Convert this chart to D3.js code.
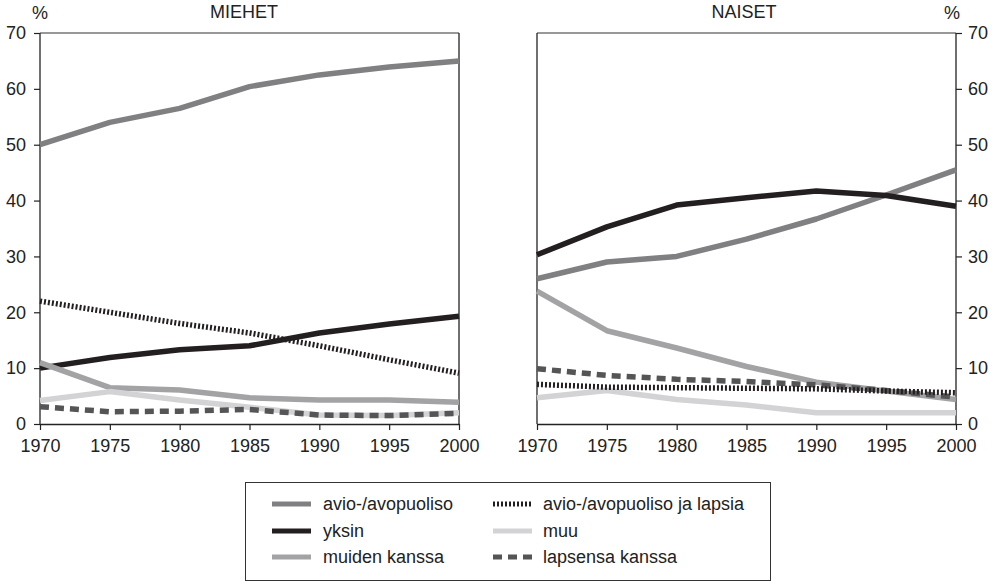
<!DOCTYPE html>
<html><head><meta charset="utf-8">
<script src="https://cdn.jsdelivr.net/npm/d3@7"></script>
<style>body{margin:0;background:#fff}svg{font-family:"Liberation Sans",Arial,sans-serif}</style>
</head><body><svg id="c" width="994" height="587"></svg>
<script>
const years = [1970,1975,1980,1985,1990,1995,2000];
const yTicks = [0,10,20,30,40,50,60,70];
const seriesNames = ["avio-/avopuoliso","yksin","muiden kanssa","avio-/avopuoliso ja lapsia","muu","lapsensa kanssa"];
// MIEHET
const menAvio   = [50,54,56.5,60.4,62.5,63.9,65];
const menYksin  = [10,11.9,13.3,14,16.3,17.9,19.3];
const menMuiden = [11,6.5,6.1,4.7,4.3,4.3,3.9];
const menLapsia = [22,20,18,16.3,14,11.5,9.1];
const menMuu    = [4.2,5.8,4.3,3.0,1.6,1.5,2.0];
const menLapsensa=[3.1,2.2,2.3,2.6,1.6,1.5,1.9];
// NAISET
const womAvio   = [26,29,30,33.1,36.7,41,45.5];
const womYksin  = [30.3,35.3,39.2,40.5,41.7,40.9,39];
const womMuiden = [23.8,16.7,13.6,10.3,7.5,5.9,4.4];
const womLapsia = [7.1,6.6,6.5,6.4,6.3,5.9,5.6];
const womMuu    = [4.7,6.0,4.4,3.4,2.0,2.0,2.0];
const womLapsensa=[9.9,8.7,8.0,7.6,7.0,6.0,4.8];

const styles = {
 "avio-/avopuoliso":{c:"#808082",w:5.5,d:null},
 "yksin":{c:"#231f20",w:5.5,d:null},
 "muiden kanssa":{c:"#a3a3a5",w:5.5,d:null},
 "avio-/avopuoliso ja lapsia":{c:"#231f20",w:5.5,d:"2,2"},
 "muu":{c:"#d3d3d5",w:5.5,d:null},
 "lapsensa kanssa":{c:"#555557",w:5.5,d:"9,6"}
};
const FS = 18;
const svg = d3.select("#c");
const yTop=33, yBot=424;
const y = d3.scaleLinear().domain([0,70]).range([yBot,yTop]);
const order = ["avio-/avopuoliso","yksin","muiden kanssa","muu","lapsensa kanssa","avio-/avopuoliso ja lapsia"];

function panel(x0,x1,data,title,titleX,pctX,side){
  const x = d3.scaleLinear().domain([1970,2000]).range([x0,x1]);
  const g = svg.append("g");
  g.append("line").attr("x1",x0).attr("x2",x1).attr("y1",yTop).attr("y2",yTop).attr("stroke","#333").attr("stroke-width",1.2);
  g.append("line").attr("x1",x0).attr("x2",x0).attr("y1",yTop).attr("y2",yBot).attr("stroke","#222").attr("stroke-width",1.3);
  g.append("line").attr("x1",x1).attr("x2",x1).attr("y1",yTop).attr("y2",yBot).attr("stroke","#222").attr("stroke-width",1.3);
  const xa = g.append("g").attr("transform",`translate(0,${yBot})`)
    .call(d3.axisBottom(x).tickValues(years).tickFormat(d3.format("d")).tickSize(6).tickSizeOuter(0).tickPadding(9));
  xa.select(".domain").attr("stroke","#222").attr("stroke-width",1.3);
  xa.selectAll(".tick line").attr("stroke","#222").attr("stroke-width",1.2);
  xa.selectAll("text").attr("font-size",FS).attr("fill","#222").attr("font-family","Liberation Sans, Arial, sans-serif");
  const ax = side==="left" ? d3.axisLeft(y) : d3.axisRight(y);
  const ya = g.append("g").attr("transform",`translate(${side==="left"?x0:x1},0)`)
    .call(ax.tickValues(yTicks).tickSize(6).tickSizeOuter(0).tickPadding(side==="left"?8:6));
  ya.select(".domain").remove();
  ya.selectAll(".tick line").attr("stroke","#222").attr("stroke-width",1.2);
  ya.selectAll("text").attr("font-size",FS).attr("fill","#222").attr("font-family","Liberation Sans, Arial, sans-serif");
  const line = d3.line().x((d,i)=>x(years[i])).y(d=>y(d));
  order.forEach(n=>{
    const s=styles[n];
    g.append("path").datum(data[n]).attr("d",line).attr("fill","none")
      .attr("stroke",s.c).attr("stroke-width",s.w).attr("stroke-dasharray",s.d)
      .attr("stroke-linejoin","round");
  });
  g.append("text").attr("x",titleX).attr("y",18).attr("text-anchor","middle").attr("font-size",FS).attr("fill","#222").text(title);
  g.append("text").attr("x",pctX).attr("y",19).attr("text-anchor","middle").attr("font-size",FS).attr("fill","#222").text("%");
}
panel(40,459,{"avio-/avopuoliso":menAvio,"yksin":menYksin,"muiden kanssa":menMuiden,"avio-/avopuoliso ja lapsia":menLapsia,"muu":menMuu,"lapsensa kanssa":menLapsensa},"MIEHET",244,40,"left");
panel(537,956,{"avio-/avopuoliso":womAvio,"yksin":womYksin,"muiden kanssa":womMuiden,"avio-/avopuoliso ja lapsia":womLapsia,"muu":womMuu,"lapsensa kanssa":womLapsensa},"NAISET",744,952,"right");

const lg = svg.append("g");
lg.append("rect").attr("x",245.5).attr("y",482.5).attr("width",525).attr("height",98).attr("fill","none").attr("stroke","#333").attr("stroke-width",1);
const legCols=[{sx:272,tx:323},{sx:493,tx:543}];
const legRows=[504,531,557];
const legItems=[[0,0,"avio-/avopuoliso"],[0,1,"yksin"],[0,2,"muiden kanssa"],[1,0,"avio-/avopuoliso ja lapsia"],[1,1,"muu"],[1,2,"lapsensa kanssa"]];
legItems.forEach(([c,r,n])=>{
  const s=styles[n], col=legCols[c], yy=legRows[r];
  lg.append("line").attr("x1",col.sx).attr("x2",col.sx+39).attr("y1",yy).attr("y2",yy)
    .attr("stroke",s.c).attr("stroke-width",5).attr("stroke-dasharray",s.d);
  lg.append("text").attr("x",col.tx).attr("y",yy+6).attr("font-size",FS).attr("fill","#222").text(n);
});
</script></body></html>
